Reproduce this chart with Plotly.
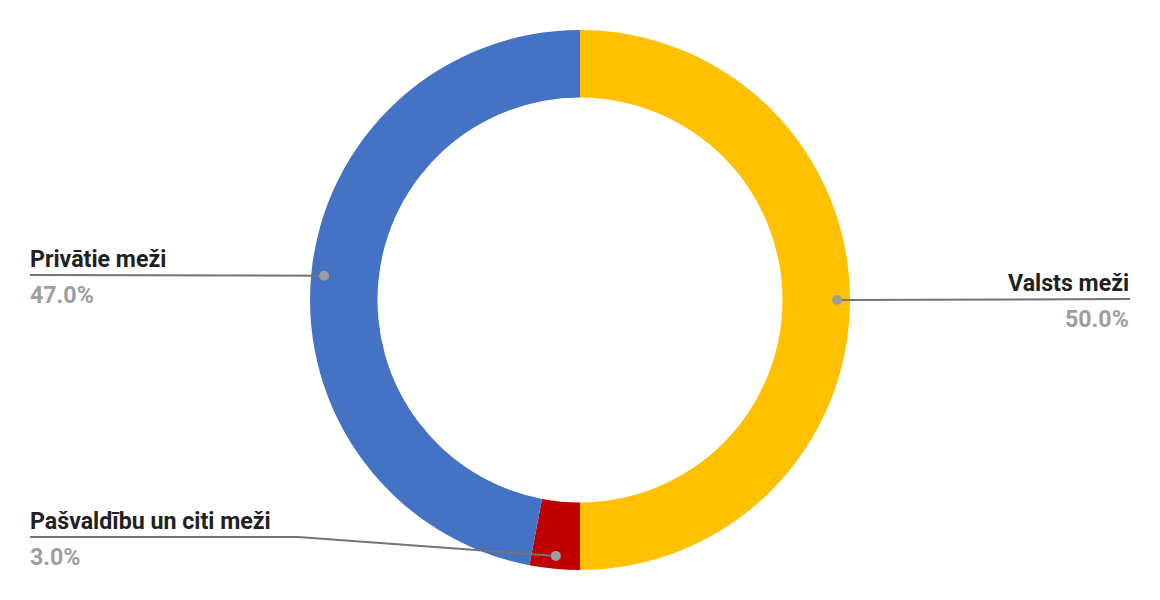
import numpy as np
import plotly.graph_objects as go

# ---- data ----
categories = ["Valsts meži", "Pašvaldību un citi meži", "Privātie meži"]
shares = [50.0, 3.0, 47.0]
colors = ["#FFC000", "#C00000", "#4472C4"]

# ---- layout constants (pixels) ----
W, H = 1160, 600
CX, CY, R = 580, 300, 270
HOLE = 0.75
DOT_R = 0.952 * R
LEFT_X, RIGHT_X = 30, 1130
# leader-line y for each label (label placement, like the original)
label_line_y = [299, 537, 275]
elbow_x = [None, 298, None]

fig = go.Figure()
fig.add_trace(go.Pie(
    labels=categories, values=shares, sort=False, direction="clockwise",
    rotation=0, hole=HOLE, marker=dict(colors=colors, line=dict(width=0)),
    textinfo="none", hoverinfo="label+percent", showlegend=False,
    domain=dict(x=[(CX - R) / W, (CX + R) / W], y=[1 - (CY + R) / H, 1 - (CY - R) / H]),
))
# invisible trace to create cartesian axes used for shape/annotation coordinates
fig.add_trace(go.Scatter(x=[0, W], y=[0, H], mode="markers", marker=dict(opacity=0),
                         hoverinfo="skip", showlegend=False))

vals = np.array(shares, dtype=float)
frac = vals / vals.sum()
mids = np.cumsum(frac) - frac / 2
theta = 2 * np.pi * mids
dx = CX + DOT_R * np.sin(theta)
dy = CY - DOT_R * np.cos(theta)

annotations = []
shapes = []
DOT = 5
for i, name in enumerate(categories):
    right = np.sin(theta[i]) > 0
    ly = label_line_y[i]
    end_x = RIGHT_X if right else LEFT_X
    if elbow_x[i] is not None:
        path = f"M {end_x},{ly} L {elbow_x[i]},{ly} L {dx[i]:.2f},{dy[i]:.2f}"
    else:
        path = f"M {end_x},{ly} L {dx[i]:.2f},{dy[i]:.2f}"
    shapes.append(dict(type="path", path=path, xref="x", yref="y", layer="above",
                       line=dict(color="#757575", width=2)))
    shapes.append(dict(type="circle", xref="x", yref="y", layer="above",
                       x0=dx[i] - DOT, x1=dx[i] + DOT, y0=dy[i] - DOT, y1=dy[i] + DOT,
                       fillcolor="#9E9E9E", line=dict(width=0)))
    xanchor = "right" if right else "left"
    shift = 1 if right else -2
    annotations.append(dict(x=end_x, y=ly - 16, xref="x", yref="y", text=f"<b>{name}</b>",
                            showarrow=False, xanchor=xanchor, yanchor="middle", xshift=shift,
                            font=dict(family="Roboto", size=23.2, color="#212121")))
    annotations.append(dict(x=end_x, y=ly + 20, xref="x", yref="y", text=f"<b>{shares[i]:.1f}%</b>",
                            showarrow=False, xanchor=xanchor, yanchor="middle", xshift=shift,
                            font=dict(family="Roboto", size=23.2, color="#9E9E9E")))

fig.update_layout(
    width=W, height=H, margin=dict(l=0, r=0, t=0, b=0),
    paper_bgcolor="white", plot_bgcolor="rgba(0,0,0,0)",
    xaxis=dict(range=[0, W], visible=False, fixedrange=True),
    yaxis=dict(range=[H, 0], visible=False, fixedrange=True),
    annotations=annotations, shapes=shapes,
    font=dict(family="Roboto"),
)
fig.write_html("out.html")
